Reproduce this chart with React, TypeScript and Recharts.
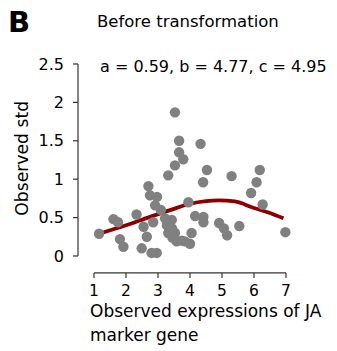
import React from "react";
import { ComposedChart, Scatter, Line, XAxis, YAxis, ReferenceLine } from "recharts";

const pointX = [1.16, 1.61, 1.75, 1.81, 1.92, 2.33, 2.49, 2.7, 2.75, 2.97, 2.91, 3.09, 2.55, 2.65, 2.85, 3.22, 3.28, 3.43, 3.44, 3.32, 3.53, 3.45, 3.58, 3.74, 3.84, 4.0, 4.05, 2.8, 2.96, 3.53, 3.66, 3.66, 3.79, 3.53, 3.32, 4.33, 4.53, 4.41, 3.95, 4.16, 4.42, 4.42, 4.91, 5.06, 5.16, 5.54, 5.3, 6.18, 6.08, 5.91, 6.27, 6.98];
const pointY = [0.29, 0.48, 0.44, 0.22, 0.12, 0.54, 0.1, 0.91, 0.79, 0.77, 0.66, 0.6, 0.38, 0.25, 0.44, 0.49, 0.4, 0.47, 0.36, 0.3, 0.3, 0.24, 0.19, 0.2, 0.19, 0.16, 0.3, 0.04, 0.04, 1.87, 1.5, 1.35, 1.26, 1.18, 1.05, 1.46, 1.12, 0.96, 0.7, 0.52, 0.51, 0.44, 0.43, 0.36, 0.27, 0.39, 1.04, 1.12, 0.96, 0.82, 0.67, 0.31];

const curveX = [1.16, 2.0, 2.75, 3.4, 4.0, 4.5, 4.9, 5.4, 6.0, 6.5, 6.92];
const curveY = [0.29, 0.4, 0.51, 0.6, 0.68, 0.715, 0.725, 0.71, 0.625, 0.56, 0.49];

const xTicks = [1, 2, 3, 4, 5, 6, 7];
const yTicks = [0, 0.5, 1, 1.5, 2, 2.5];

const panelLetter = "B";
const titleText = "Before transformation";
const fitText = "a = 0.59, b = 4.77, c = 4.95";
const xTitle1 = "Observed expressions of JA";
const xTitle2 = "marker gene";
const yTitle = "Observed std";

const points = pointX.map((x, i) => ({ x, y: pointY[i] }));
const curve = curveX.map((x, i) => ({ x, y: curveY[i] }));

const FONT = "'DejaVu Sans', sans-serif";
const AXIS = "#333";

const Dot = (props: any) => <circle cx={props.cx} cy={props.cy} r={5.2} fill="#808080" />;

export default function App() {
  return (
    <div style={{ position: "absolute", left: 0, top: 0, width: 337, height: 351, background: "#fff" }}>
      <ComposedChart
        width={337}
        height={351}
        margin={{ top: 56.3, right: 43, bottom: 48, left: 0 }}
      >
        <XAxis
          type="number"
          dataKey="x"
          domain={[0.5, 7.25]}
          allowDataOverflow
          ticks={xTicks}
          interval={0}
          axisLine={false}
          tickLine={{ stroke: AXIS, strokeWidth: 1.2 }}
          tickSize={5}
          tickMargin={7}
          height={30.1}
          tick={{ fontSize: 15.5, fill: "#000", fontFamily: FONT }}
        />
        <YAxis
          type="number"
          dataKey="y"
          domain={[-0.22, 2.6]}
          allowDataOverflow
          ticks={yTicks}
          interval={0}
          axisLine={false}
          tickLine={{ stroke: AXIS, strokeWidth: 1.2 }}
          tickSize={5}
          tickMargin={9}
          width={78}
          tick={{ fontSize: 16, fill: "#000", fontFamily: FONT }}
        />
        <ReferenceLine
          segment={[{ x: 1, y: -0.22 }, { x: 7, y: -0.22 }]}
          stroke={AXIS}
          strokeWidth={1.2}
          ifOverflow="visible"
        />
        <ReferenceLine
          segment={[{ x: 0.5, y: 0 }, { x: 0.5, y: 2.5 }]}
          stroke={AXIS}
          strokeWidth={1.2}
          ifOverflow="visible"
        />
        <Scatter data={points} dataKey="y" shape={Dot} isAnimationActive={false} />
        <Line
          data={curve}
          dataKey="y"
          type="monotone"
          stroke="#8B0000"
          strokeWidth={3.8}
          dot={false}
          activeDot={false}
          isAnimationActive={false}
        />
      </ComposedChart>
      <svg
        width={337}
        height={351}
        style={{ position: "absolute", left: 0, top: 0, pointerEvents: "none" }}
      >
        <text x={8} y={32} fontFamily={FONT} fontWeight="bold" fontSize={29} fill="#000">{panelLetter}</text>
        <text x={97} y={26.5} fontFamily={FONT} fontSize={16.5} fill="#000">{titleText}</text>
        <text x={100} y={71.5} fontFamily={FONT} fontSize={16} fill="#000">{fitText}</text>
        <text x={90} y={316.5} fontFamily={FONT} fontSize={17} fill="#000">{xTitle1}</text>
        <text x={90} y={340.5} fontFamily={FONT} fontSize={17} fill="#000">{xTitle2}</text>
        <text
          x={0}
          y={0}
          transform="translate(28,158.3) rotate(-90)"
          textAnchor="middle"
          fontFamily={FONT}
          fontSize={17.2}
          fill="#000"
        >
          {yTitle}
        </text>
      </svg>
    </div>
  );
}
